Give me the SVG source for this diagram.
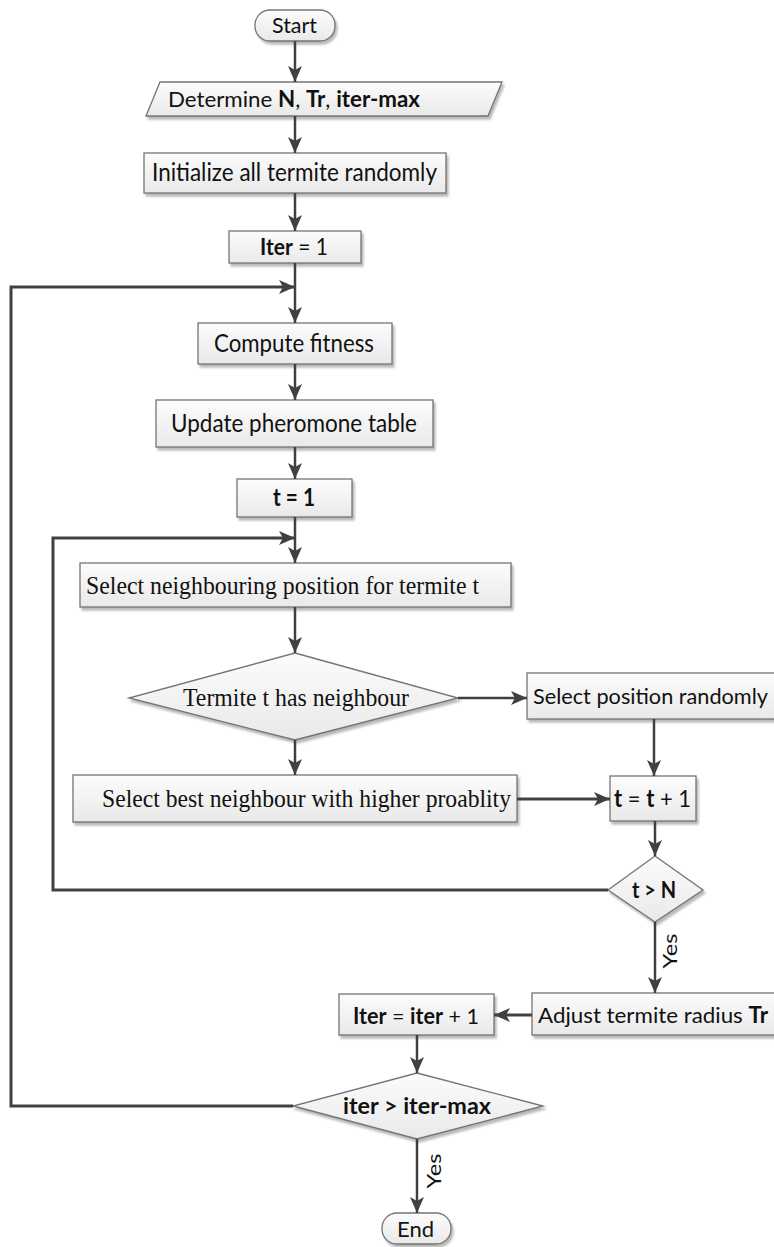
<svg xmlns="http://www.w3.org/2000/svg" width="774" height="1247" viewBox="0 0 774 1247">
<defs>
<linearGradient id="g" x1="0" y1="0" x2="0" y2="1">
<stop offset="0" stop-color="#fcfcfc"/>
<stop offset="1" stop-color="#e9e9e9"/>
</linearGradient>
<filter id="sh" x="-10%" y="-20%" width="130%" height="160%">
<feDropShadow dx="2" dy="3" stdDeviation="1.2" flood-color="#8a8a8a" flood-opacity="0.6"/>
</filter>
<marker id="ah" viewBox="0 0 16 16" refX="16" refY="8" markerWidth="16" markerHeight="16" markerUnits="userSpaceOnUse" orient="auto">
<path d="M0,1 L16,8 L0,15 L4,8 z" fill="#404040"/>
</marker>
<style>
.n{fill:url(#g);stroke:#747474;stroke-width:1.3;filter:url(#sh)}
.s{font-family:Lato,"Liberation Sans",sans-serif;fill:#111}
.r{font-family:"Liberation Serif","Times New Roman",serif;fill:#111}
.b{font-weight:bold}
.c{fill:none;stroke:#404040;stroke-width:2.5}
.a{marker-end:url(#ah)}
.o{fill:none;stroke:#404040;stroke-width:3}
</style>
</defs>

<g id="start">
<rect class="n" x="255" y="10" width="80" height="31" rx="15"/>
<text class="s" x="272" y="33" font-size="22" textLength="45" lengthAdjust="spacingAndGlyphs">Start</text>
</g>
<g id="determine">
<polygon class="n" points="160,82 502,82 488,116 146,116"/>
<text class="s" x="168" y="107" font-size="22" textLength="252" lengthAdjust="spacingAndGlyphs">Determine <tspan class="b">N</tspan>, <tspan class="b">Tr</tspan>, <tspan class="b">iter-max</tspan></text>
</g>
<g id="init">
<rect class="n" x="144" y="153" width="302" height="40"/>
<text class="s" x="152" y="181" font-size="25" textLength="285" lengthAdjust="spacingAndGlyphs">Initialize all termite randomly</text>
</g>
<g id="iter1">
<rect class="n" x="229" y="231" width="132" height="32"/>
<text class="s" x="260" y="255" font-size="23" textLength="68" lengthAdjust="spacingAndGlyphs"><tspan class="b">Iter</tspan> = 1</text>
</g>
<g id="compute">
<rect class="n" x="198" y="323" width="194" height="41"/>
<text class="s" x="214" y="352" font-size="25" textLength="160" lengthAdjust="spacingAndGlyphs">Compute fitness</text>
</g>
<g id="update">
<rect class="n" x="156" y="400" width="277" height="47"/>
<text class="s" x="171" y="432" font-size="25" textLength="246" lengthAdjust="spacingAndGlyphs">Update pheromone table</text>
</g>
<g id="t1">
<rect class="n" x="237" y="479" width="115" height="38"/>
<text class="s b" x="273" y="506" font-size="24" textLength="42" lengthAdjust="spacingAndGlyphs">t = 1</text>
</g>
<g id="selneigh">
<rect class="n" x="80" y="563" width="431" height="44"/>
<text class="r" x="86" y="594" font-size="25" textLength="393" lengthAdjust="spacingAndGlyphs">Select neighbouring position for termite t</text>
</g>
<g id="hasneigh">
<polygon class="n" points="295,653 458,698 295,740 129,698"/>
<text class="r" x="183" y="706" font-size="25" textLength="226" lengthAdjust="spacingAndGlyphs">Termite t has neighbour</text>
</g>
<g id="selrandom">
<rect class="n" x="527" y="673" width="260" height="46"/>
<text class="s" x="533" y="704" font-size="22" textLength="235" lengthAdjust="spacingAndGlyphs">Select position randomly</text>
</g>
<g id="selbest">
<rect class="n" x="73" y="775" width="444" height="47"/>
<text class="r" x="102" y="807" font-size="25" textLength="409" lengthAdjust="spacingAndGlyphs">Select best neighbour with higher proablity</text>
</g>
<g id="tinc">
<rect class="n" x="610" y="776" width="86" height="45"/>
<text class="s" x="614" y="807" font-size="24" textLength="77" lengthAdjust="spacingAndGlyphs"><tspan class="b">t</tspan> = <tspan class="b">t</tspan> + 1</text>
</g>
<g id="tgtN">
<polygon class="n" points="655,856 703,890 655,922 608,890"/>
<text class="s b" x="632" y="898" font-size="22" textLength="44" lengthAdjust="spacingAndGlyphs">t &gt; N</text>
</g>
<g id="adjust">
<rect class="n" x="532" y="993" width="260" height="42"/>
<text class="s" x="538" y="1023" font-size="22" textLength="230" lengthAdjust="spacingAndGlyphs">Adjust termite radius <tspan class="b">Tr</tspan></text>
</g>
<g id="iterinc">
<rect class="n" x="339" y="994" width="155" height="41"/>
<text class="s" x="353" y="1024" font-size="22" textLength="126" lengthAdjust="spacingAndGlyphs"><tspan class="b">Iter</tspan> = <tspan class="b">iter</tspan> + 1</text>
</g>
<g id="itermax">
<polygon class="n" points="417,1073 543,1106 417,1139 293,1106"/>
<text class="s b" x="343" y="1114" font-size="23" textLength="148" lengthAdjust="spacingAndGlyphs">iter  &gt; iter-max</text>
</g>
<g id="end">
<rect class="n" x="382" y="1213" width="69" height="31" rx="15"/>
<text class="s" x="397" y="1237" font-size="22" textLength="37" lengthAdjust="spacingAndGlyphs">End</text>
</g>

<g id="connectors">
<path class="c a" d="M295,41 V82"/>
<path class="c a" d="M295,116 V153"/>
<path class="c a" d="M295,193 V231"/>
<path class="c a" d="M295,263 V323"/>
<path class="o a" d="M293,1106 H11 V287 H295"/>
<path class="c a" d="M295,364 V400"/>
<path class="c a" d="M295,447 V479"/>
<path class="c a" d="M295,517 V563"/>
<path class="o a" d="M608,890 H53 V538 H295"/>
<path class="c a" d="M295,607 V653"/>
<path class="c a" d="M458,698 H527"/>
<path class="c a" d="M295,740 V775"/>
<path class="c a" d="M654,719 V776"/>
<path class="o a" d="M517,799 H610"/>
<path class="c a" d="M655,821 V856"/>
<path class="c a" d="M655,922 V993"/>
<path class="o a" d="M532,1015 H494"/>
<path class="c a" d="M417,1035 V1073"/>
<path class="c a" d="M417,1139 V1213"/>
<text class="s" transform="translate(677,951) rotate(-90)" text-anchor="middle" font-size="20" textLength="35" lengthAdjust="spacingAndGlyphs">Yes</text>
<text class="s" transform="translate(441,1171) rotate(-90)" text-anchor="middle" font-size="20" textLength="35" lengthAdjust="spacingAndGlyphs">Yes</text>
</g>
</svg>
